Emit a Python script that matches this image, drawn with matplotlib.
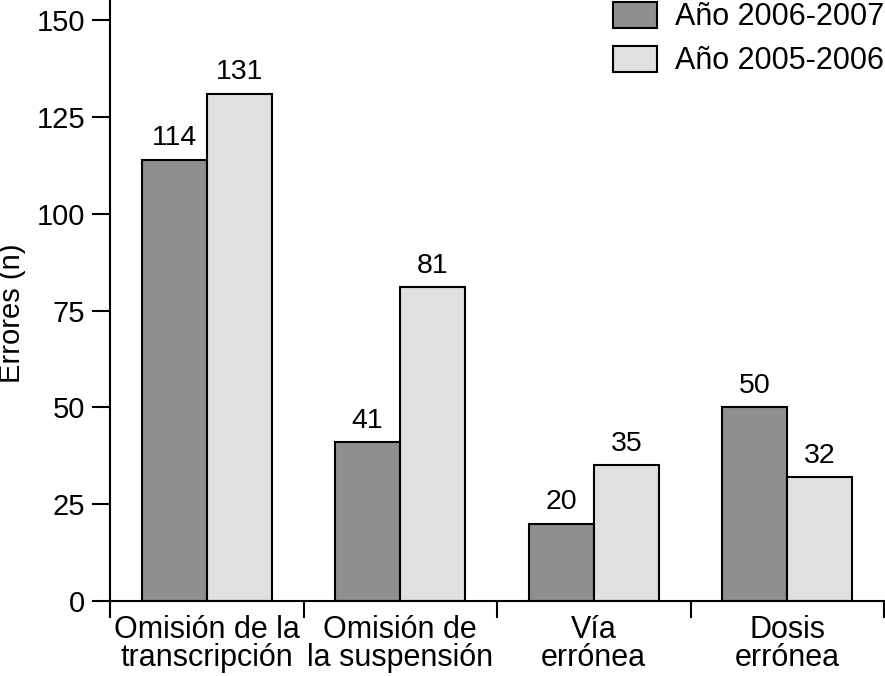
import matplotlib
matplotlib.use("Agg")
import matplotlib.pyplot as plt
import numpy as np

categories = ["Omisión de la\ntranscripción", "Omisión de\nla suspensión", "Vía\nerrónea", "Dosis\nerrónea"]
series_names = ["Año 2006-2007", "Año 2005-2006"]
values_2006_2007 = [114, 41, 20, 50]
values_2005_2006 = [131, 81, 35, 32]
y_ticks = [0, 25, 50, 75, 100, 125, 150]
colors = ["#8f8f8f", "#e0e0e0"]

plt.rcParams['font.family'] = ['Liberation Sans', 'DejaVu Sans']

fig = plt.figure(figsize=(8.85, 6.76), dpi=100)
ax = fig.add_axes([110/885, 1 - 601/676, 774/885, 601/676])

x = np.arange(len(categories))
w = 0.337
b1 = ax.bar(x - w/2, values_2006_2007, w, color=colors[0], edgecolor='black', linewidth=1.5, label=series_names[0])
b2 = ax.bar(x + w/2, values_2005_2006, w, color=colors[1], edgecolor='black', linewidth=1.5, label=series_names[1])

for bars, vals in ((b1, values_2006_2007), (b2, values_2005_2006)):
    for r, v in zip(bars, vals):
        ax.annotate(str(v), (r.get_x() + r.get_width()/2, v), xytext=(0, 6),
                    textcoords='offset points', ha='center', va='bottom', fontsize=20.5)

ax.set_xlim(-0.5, 3.5)
ax.set_ylim(0, 155.2)
ax.set_yticks(y_ticks)
ax.tick_params(axis='y', labelsize=21, length=13, width=1.5, pad=5)

ax.set_xticks(np.arange(-0.5, 4.0, 1.0))
ax.set_xticklabels([])
ax.tick_params(axis='x', which='major', length=12.5, width=1.5, direction='out')
ax.set_xticks(x, minor=True)
ax.set_xticklabels(categories, minor=True, fontsize=22, linespacing=0.92)
ax.tick_params(axis='x', which='minor', length=0, pad=10)

for s in ('top', 'right'):
    ax.spines[s].set_visible(False)
for s in ('left', 'bottom'):
    ax.spines[s].set_linewidth(1.5)

ax.set_ylabel("Errores (n)", fontsize=21)
ax.yaxis.set_label_coords(-0.108, 0.478)

leg = ax.legend(loc='upper right', bbox_to_anchor=(1.0, 0.997), fontsize=22, frameon=False,
                handlelength=1.44, handleheight=0.92, handletextpad=0.6, labelspacing=0.45,
                borderaxespad=0.0, borderpad=0.0)
for h in leg.legend_handles:
    h.set_linewidth(1.5)

fig.savefig("out.png", dpi=100)
